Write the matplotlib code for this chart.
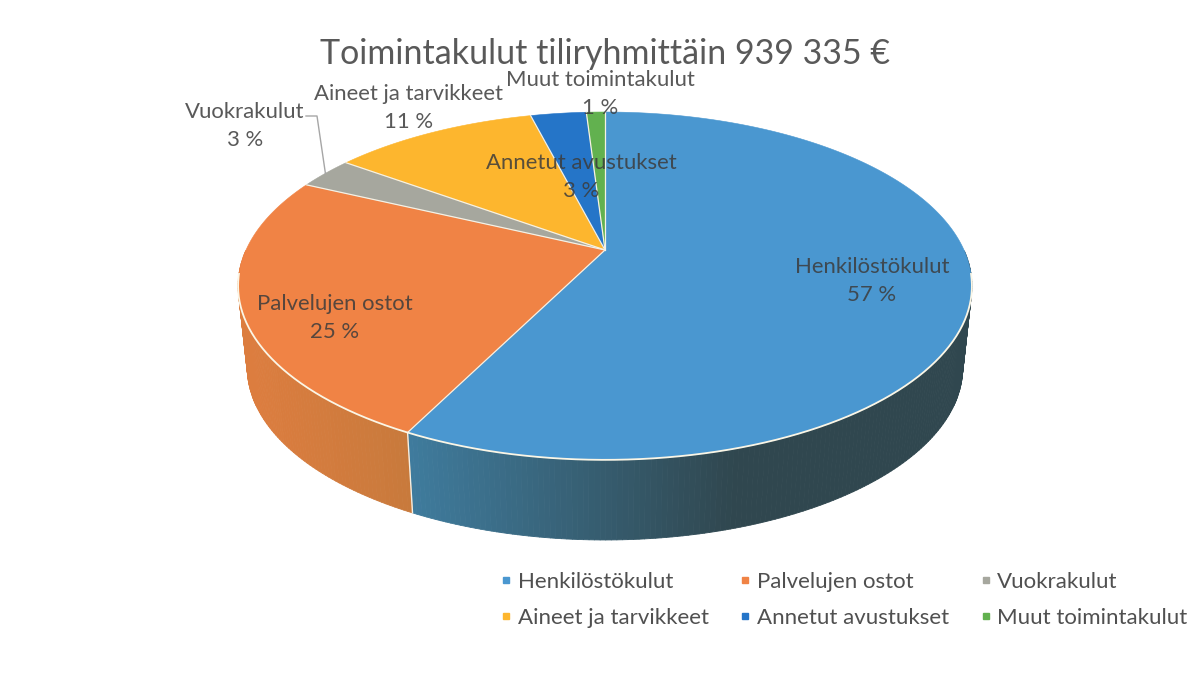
import numpy as np
import matplotlib
matplotlib.use("Agg")
import matplotlib.pyplot as plt
from matplotlib.collections import PolyCollection
from matplotlib.colors import to_rgb
from matplotlib.lines import Line2D

# --- data ---
title = "Toimintakulut tiliryhmittäin 939 335 €"
categories = ["Henkilöstökulut", "Palvelujen ostot", "Vuokrakulut",
              "Aineet ja tarvikkeet", "Annetut avustukset", "Muut toimintakulut"]
values = [57.4, 24.6, 3.0, 11.0, 3.0, 1.0]
percent_labels = ["57 %", "25 %", "3 %", "11 %", "3 %", "1 %"]

# --- style ---
top_colors = ["#4a97d0", "#f08345", "#a6a79e", "#fdb62e", "#2575c8", "#62b14f"]
side_near = ["#3f7c9e", "#dc7d3f", "#8a8a84", "#c8912a", "#1e5da0", "#4e8d3f"]
side_far = ["#30474f", "#c87a3c", "#8a8a84", "#c8912a", "#1e5da0", "#4e8d3f"]
label_xy = [(872, 281), (335, 318), (245, 126), (409, 108), (581, 177), (600, 94)]
FONT = "Lato"
plt.rcParams["font.family"] = [FONT, "DejaVu Sans"]

fig = plt.figure(figsize=(11.94, 6.76), dpi=100, facecolor="white")
ax = fig.add_axes([0, 0, 1, 1])
ax.set_xlim(0, 1194)
ax.set_ylim(676, 0)
ax.axis("off")

CX, K = 605.0, 0.2066
TOP = dict(ay=250.0, a=359.0, b=166.5)
BOT = dict(ay=332.0, a=350.0, b=165.0)


def project(theta, disc, r=1.0):
    """Perspective projection of a point on the pie disc (theta clockwise from top)."""
    X, Y = r * np.sin(theta), r * np.cos(theta)
    d = 1 + K * Y
    return CX + disc["a"] * X / d, disc["ay"] - disc["b"] * Y / d


edges = np.radians(np.concatenate([[0], np.cumsum(values)]) / np.sum(values) * 360)

# side wall, drawn as narrow strips shaded along the rim (front half only)
for i in range(len(values)):
    th = np.linspace(edges[i], edges[i + 1], max(3, int(values[i] * 5)))
    tx, ty = project(th, TOP)
    bx, by = project(th, BOT)
    polys, cols = [], []
    for j in range(len(th) - 1):
        if np.cos(th[j]) > 0 or np.cos(th[j + 1]) > 0:
            continue
        polys.append([(tx[j], ty[j]), (tx[j + 1], ty[j + 1]),
                      (bx[j + 1], by[j + 1]), (bx[j], by[j])])
        # shade by horizontal position along the front of the pie
        t = np.clip((tx[j] - 407) / 330, 0, 1) if i == 0 else np.clip((tx[j] - 250) / 160, 0, 1)
        cols.append(tuple((1 - t) * np.array(to_rgb(side_near[i])) + t * np.array(to_rgb(side_far[i]))))
    if polys:
        ax.add_collection(PolyCollection(polys, facecolors=cols, edgecolors=cols, linewidths=0.6, zorder=2))

# seam between side segments on the front
sx, sy = project(edges[1], TOP)
ex, ey = project(edges[1], BOT)
ax.plot([sx, ex], [sy, ey], color="#f4efe4", lw=1.0, zorder=3)

# top face, with thin light separators between the slices
ax0, ay0 = project(0.0, TOP, r=0.0)
for i in range(len(values)):
    th = np.linspace(edges[i], edges[i + 1], max(4, int(values[i] * 6)))
    x, y = project(th, TOP)
    ax.fill(np.r_[ax0, x], np.r_[ay0, y], facecolor=top_colors[i],
            edgecolor=top_colors[i], linewidth=0.4, zorder=4)
for e in edges[:-1]:
    x, y = project(e, TOP)
    ax.plot([ax0, x], [ay0, y], color="#f6f1e4", lw=0.9, zorder=4.5)

# lighter rim between top face and the wall
th = np.linspace(np.radians(98), np.radians(262), 200)
x, y = project(th, TOP)
ax.plot(x, y, color="#fbf6e6", lw=1.3, zorder=5)

# title and labels
ax.text(605, 54, title, ha="center", va="center", fontsize=24.5, color="#595959", zorder=8)
for name, pct, (lx, ly) in zip(categories, percent_labels, label_xy):
    ax.text(lx, ly, f"{name}\n{pct}", ha="center", va="center", fontsize=15.9,
            color="#3c3c3c", alpha=0.85, linespacing=1.47, zorder=8)

# leader line of the small slice
mid = (edges[2] + edges[3]) / 2
mx, my = project(mid, TOP)
ax.plot([306, 317, mx], [116, 116, my], color="#a6a6a6", lw=1.0, zorder=6)

# legend (filled row by row in the reference)
handles = [Line2D([], [], ls="", marker="s", ms=4.6, mfc=c, mec=c) for c in top_colors]
order = [0, 3, 1, 4, 2, 5]
ax.legend([handles[i] for i in order], [categories[i] for i in order], ncol=3,
          loc="center left", bbox_to_anchor=(501 / 1194, 1 - 600 / 676), frameon=False,
          fontsize=16, labelcolor="#505050", handlelength=0.45, handletextpad=0.3,
          columnspacing=1.42, labelspacing=0.7, borderpad=0, borderaxespad=0)

fig.savefig("out.png", dpi=100, facecolor="white")
